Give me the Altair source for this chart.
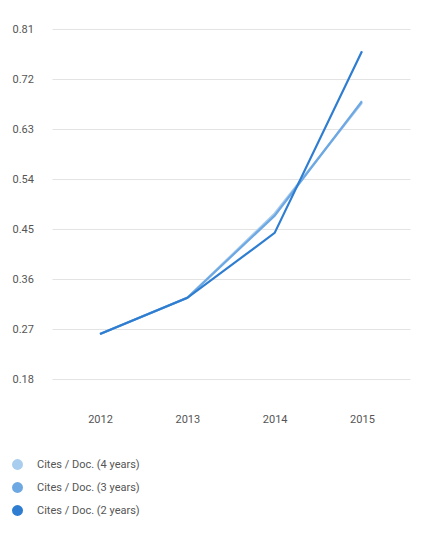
import altair as alt
import pandas as pd

years = ["2012", "2013", "2014", "2015"]
series_names = ["Cites / Doc. (4 years)", "Cites / Doc. (3 years)", "Cites / Doc. (2 years)"]
vals_4y = [0.261, 0.326, 0.478, 0.677]
vals_3y = [0.261, 0.326, 0.474, 0.680]
vals_2y = [0.261, 0.326, 0.443, 0.770]
colors = ["#a9cdee", "#6ea8e2", "#2f7dd1"]
y_ticks = [0.18, 0.27, 0.36, 0.45, 0.54, 0.63, 0.72, 0.81]

rows = []
for name, vals in zip(series_names, [vals_4y, vals_3y, vals_2y]):
    for yr, v in zip(years, vals):
        rows.append({"year": yr, "value": v, "series": name, "order": series_names.index(name)})
df = pd.DataFrame(rows)

chart = alt.Chart(df).mark_line(
    strokeWidth=2.2, point=alt.OverlayMarkDef(filled=True, size=0)
).encode(
    x=alt.X("year:O", title=None,
            scale=alt.Scale(type="point", padding=0.55),
            axis=alt.Axis(labelAngle=0, ticks=False, domain=False, grid=False,
                          labelPadding=34, labelFontSize=11, labelColor="#555555",
                          labelFont="Roboto")),
    y=alt.Y("value:Q", title=None,
            scale=alt.Scale(domain=[0.18, 0.81], nice=False, zero=False),
            axis=alt.Axis(values=y_ticks, format=".2f", ticks=False, domain=False,
                          grid=True, gridColor="#e3e3e3", gridWidth=1,
                          labelAlign="left", labelPadding=40, labelFontSize=11,
                          labelColor="#555555", labelFont="Roboto")),
    color=alt.Color("series:N", sort=series_names,
                    scale=alt.Scale(domain=series_names, range=colors),
                    legend=alt.Legend(title=None, orient="none", legendX=-40, legendY=430,
                                      symbolType="circle", symbolSize=120,
                                      symbolStrokeWidth=0, symbolOpacity=1,
                                      labelFontSize=11, labelColor="#555555",
                                      labelFont="Roboto", rowPadding=11, labelOffset=14)),
    order=alt.Order("order:Q"),
).properties(
    width=358, height=350,
    autosize=alt.AutoSizeParams(type="none"),
    padding={"left": 44, "top": 21, "right": 9, "bottom": 157},
).configure_view(stroke=None)

chart.save("out.html", embed_options={"renderer": "svg", "actions": False})
